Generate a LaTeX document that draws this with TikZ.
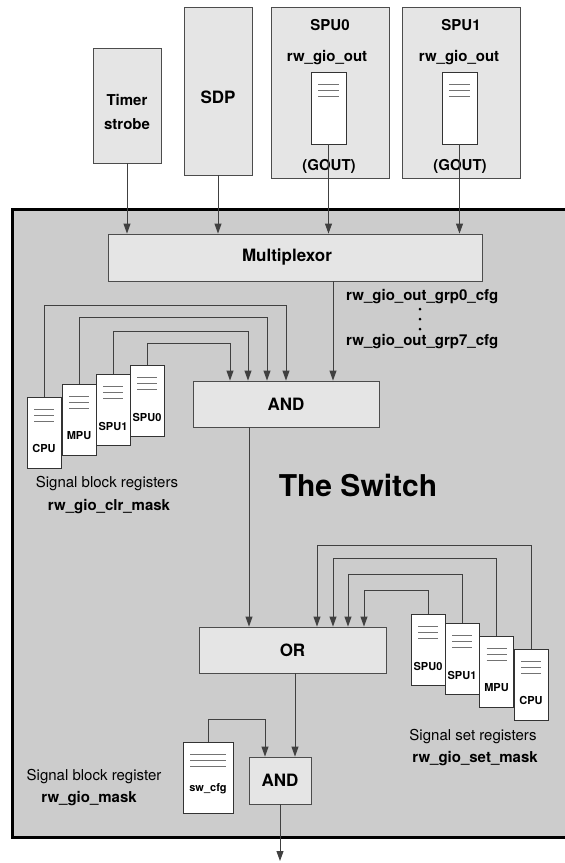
\documentclass[tikz,border=0pt]{standalone}
\usepackage{fontspec}
\setmainfont{TeX Gyre Heros}
\usetikzlibrary{arrows.meta}
\definecolor{switchgray}{gray}{0.8}
\definecolor{boxgray}{gray}{0.9}

\begin{document}
\begin{tikzpicture}[
	x = 1pt, y = -1pt,
	blk/.style = {draw = black!70, fill = boxgray, line width = 0.9pt, inner sep = 0pt},
	gate/.style = {blk, font = \bfseries\fontsize{17}{20}\selectfont},
	txt/.style = {font = \bfseries\fontsize{15}{18}\selectfont, inner sep = 0pt},
	normtxt/.style = {font = \fontsize{15}{18}\selectfont, inner sep = 0pt},
	reg/.style = {draw = black!80, fill = white, line width = 0.9pt, inner sep = 0pt,
		minimum width = 34pt, minimum height = 71pt,
		path picture = {
			\foreach \d in {12,18,24}
				\draw[black!55, line width = 0.8pt] ([xshift = 7pt, yshift = -\d pt]path picture bounding box.north west) -- ([xshift = -7pt, yshift = -\d pt]path picture bounding box.north east);
		}},
	regtxt/.style = {font = \bfseries\fontsize{11}{13}\selectfont, inner sep = 0pt, yshift = -16pt},
	arr/.style = {draw = black!75, line width = 0.9pt, -{Triangle[length = 10pt, width = 7pt]}}
	]
	\useasboundingbox (0,0) rectangle (565,863);

	% the switch
	\draw[line width = 3pt, fill = switchgray] (12,209) rectangle (600,837);
	\node[font = \bfseries\fontsize{30}{36}\selectfont] (title) at (358,485) {The Switch};

	% sources
	\node[blk, minimum width = 68pt, minimum height = 115pt] (timer) at (127,105.5) {};
	\node[txt, align = center] (timername) at (127,112) {Timer\\[6pt]strobe};
	\node[blk, minimum width = 68pt, minimum height = 168pt] (sdp) at (218,91) {};
	\node[font = \bfseries\fontsize{17}{20}\selectfont, inner sep = 0pt] (sdpname) at (218,97) {SDP};

	\node[blk, minimum width = 118pt, minimum height = 171pt] (spu0) at (330,92.5) {};
	\node[txt] (spu0name) at (330,25) {SPU0};
	\node[txt] (spu0reg) at (327,58) {rw\_gio\_out};
	\node[reg, minimum width = 35pt, minimum height = 72pt] (gout0) at (328.5,108) {};
	\node[txt] (spu0gout) at (329,166) {(GOUT)};

	\node[blk, minimum width = 118pt, minimum height = 171pt] (spu1) at (461,92.5) {};
	\node[txt] (spu1name) at (461,25) {SPU1};
	\node[txt] (spu1reg) at (459,58) {rw\_gio\_out};
	\node[reg, minimum width = 35pt, minimum height = 72pt] (gout1) at (459.5,108) {};
	\node[txt] (spu1gout) at (460,166) {(GOUT)};

	% gates
	\node[blk, minimum width = 374pt, minimum height = 47pt] (mux) at (295,257.5) {};
	\node[font = \bfseries\fontsize{17}{20}\selectfont, inner sep = 0pt] (muxname) at (287,257.5) {Multiplexor};
	\node[gate, minimum width = 186pt, minimum height = 46pt] (and1) at (286,404) {AND};
	\node[gate, minimum width = 187pt, minimum height = 46pt] (orbox) at (292.5,650) {OR};
	\node[gate, minimum width = 62pt, minimum height = 47pt] (and2) at (280,780.5) {AND};

	\draw[arr] (timer.south) -- (timer.south |- mux.north);
	\draw[arr] (sdp.south) -- (sdp.south |- mux.north);
	\draw[arr] (gout0.south) -- (gout0.south |- mux.north);
	\draw[arr] (gout1.south) -- (gout1.south |- mux.north);

	\draw[arr] ([xshift = 38pt]mux.south) -- ([xshift = 38pt]mux.south |- and1.north);
	\node[txt, anchor = west] (grp0) at (346,297) {rw\_gio\_out\_grp0\_cfg};
	\node[txt, anchor = west] (grp7) at (346,342) {rw\_gio\_out\_grp7\_cfg};
	\foreach \y in {309,319,329}
		\fill (420,\y) circle (1.5);

	% clear mask registers
	\node[reg, label = {[regtxt]center:CPU}] (clrcpu) at (44,432.5) {};
	\node[reg, label = {[regtxt]center:MPU}] (clrmpu) at (79,419.5) {};
	\node[reg, label = {[regtxt]center:SPU1}] (clrspu1) at (113,410) {};
	\node[reg, label = {[regtxt]center:SPU0}] (clrspu0) at (147,401) {};
	\node[normtxt] (clrname) at (107,484) {Signal block registers};
	\node[txt] (clrreg) at (109,507) {rw\_gio\_clr\_mask};

	\draw[arr] (clrcpu.north) -- ++(0,-91) -| (and1.north);
	\draw[arr] (clrmpu.north) -- ++(0,-66) -| ([xshift = -19pt]and1.north);
	\draw[arr] (clrspu1.north) -- ++(0,-43) -| ([xshift = -38pt]and1.north);
	\draw[arr] (clrspu0.north) -- ++(0,-22) -| ([xshift = -56pt]and1.north);

	\draw[arr] ([xshift = -37pt]and1.south) -- ([xshift = -37pt]and1.south |- orbox.north);

	% set mask registers
	\node[reg, label = {[regtxt]center:SPU0}] (setspu0) at (428,650) {};
	\node[reg, label = {[regtxt]center:SPU1}] (setspu1) at (462,659) {};
	\node[reg, label = {[regtxt]center:MPU}] (setmpu) at (496.5,672) {};
	\node[reg, label = {[regtxt]center:CPU}] (setcpu) at (531,684.5) {};
	\node[normtxt] (setname) at (473,737) {Signal set registers};
	\node[txt] (setreg) at (475,759) {rw\_gio\_set\_mask};

	\draw[arr] (setspu0.north) -- ++(0,-24) -| ([xshift = 71.5pt]orbox.north);
	\draw[arr] (setspu1.north) -- ++(0,-49) -| ([xshift = 55.5pt]orbox.north);
	\draw[arr] (setmpu.north) -- ++(0,-78) -| ([xshift = 40.5pt]orbox.north);
	\draw[arr] (setcpu.north) -- ++(0,-103) -| ([xshift = 24.5pt]orbox.north);

	% block mask register
	\node[reg, minimum width = 50pt, label = {[regtxt, yshift = 4.5pt]center:sw\_cfg}] (swcfg) at (208,777.5) {};
	\node[normtxt] (mskname) at (94,777) {Signal block register};
	\node[txt] (mskreg) at (89,799) {rw\_gio\_mask};

	\draw[arr] ([xshift = 15pt]and2.north |- orbox.south) -- ([xshift = 15pt]and2.north);
	\draw[arr] (swcfg.north) -- ++(0,-22) -| ([xshift = -15pt]and2.north);

	\coordinate (out) at (280,861);
	\draw[arr] (and2.south) -- (out);

\end{tikzpicture}
\end{document}
